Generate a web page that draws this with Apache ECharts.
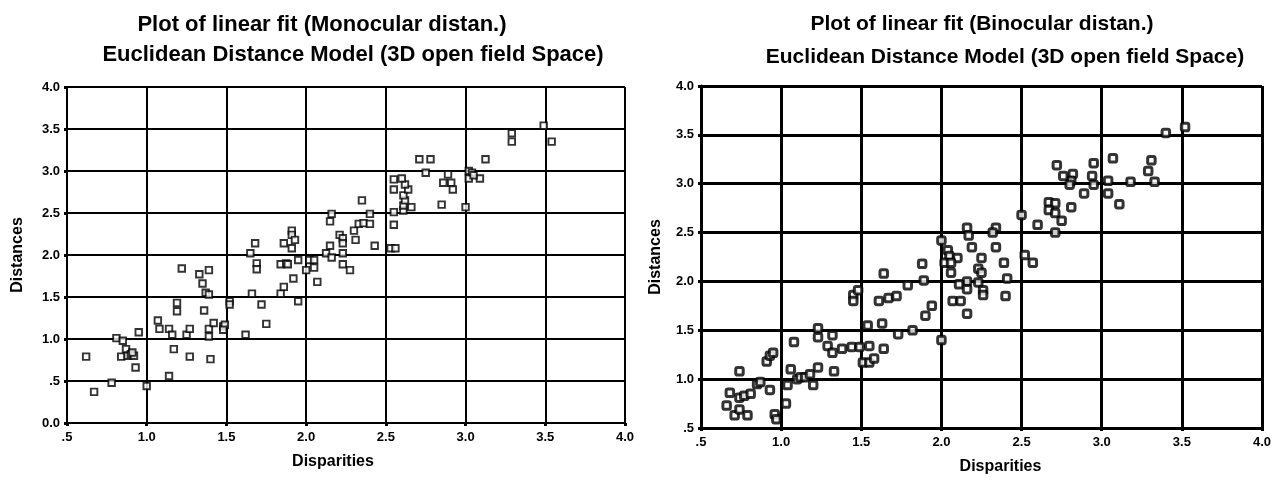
<!DOCTYPE html>
<html>
<head>
<meta charset="utf-8">
<script src="https://cdn.jsdelivr.net/npm/echarts@6/dist/echarts.min.js"></script>
<style>
  html, body { margin: 0; padding: 0; background: #ffffff; }
  #chart { width: 1275px; height: 482px; }
</style>
</head>
<body>
<div id="chart"></div>
<script>
// Disparity / distance pairs, monocular condition
const monocularPoints = [
  [0.62,0.79],[0.67,0.37],[0.78,0.48],[0.81,1.01],[0.85,0.98],[0.84,0.79],[0.87,0.88],[0.88,0.80],
  [0.90,0.82],[0.92,0.80],[0.91,0.84],[0.93,0.66],[0.95,1.08],[1.00,0.44],
  [1.07,1.22],[1.08,1.12],[1.14,1.12],[1.16,1.05],[1.17,0.88],[1.14,0.56],[1.19,1.43],[1.19,1.33],
  [1.22,1.84],[1.25,1.05],[1.27,1.12],[1.27,0.79],[1.33,1.77],[1.35,1.66],[1.36,1.34],[1.37,1.55],
  [1.39,1.53],[1.39,1.82],[1.39,1.12],[1.39,1.03],[1.40,0.76],[1.42,1.19],[1.48,1.15],[1.49,1.17],
  [1.48,1.11],[1.52,1.45],[1.52,1.41],
  [1.62,1.05],[1.66,1.54],[1.72,1.41],[1.75,1.18],[1.65,2.02],[1.68,2.14],[1.69,1.90],[1.69,1.83],
  [1.84,1.54],[1.86,1.62],[1.84,1.89],[1.875,1.90],[1.885,1.89],[1.92,1.72],[1.95,1.45],[1.95,1.94],
  [1.91,2.29],[1.91,2.24],[1.93,2.18],[1.91,2.08],[1.86,2.14],
  [2.00,1.82],[2.02,1.94],[2.05,1.94],[2.05,1.85],[2.07,1.68],[2.125,2.02],[2.16,1.97],[2.15,2.11],
  [2.23,2.02],[2.23,1.89],[2.275,1.82],[2.21,2.24],[2.23,2.20],[2.23,2.14],[2.31,2.18],[2.30,2.29],
  [2.33,2.37],[2.36,2.38],[2.40,2.37],[2.40,2.49],[2.43,2.11],[2.16,2.49],[2.15,2.40],[2.35,2.65],
  [2.53,2.08],[2.56,2.08],[2.55,2.36],[2.55,2.51],[2.61,2.53],[2.61,2.59],[2.66,2.57],[2.62,2.65],
  [2.61,2.71],[2.55,2.78],[2.64,2.78],[2.62,2.84],[2.55,2.90],[2.60,2.91],[2.71,3.14],[2.78,3.14],
  [2.75,2.98],[2.85,2.60],[2.89,2.96],[2.86,2.86],[2.91,2.86],[2.92,2.78],[3.00,2.57],[3.02,3.00],
  [3.04,2.98],[3.02,2.91],[3.09,2.91],[3.05,2.95],[3.125,3.14],[3.29,3.45],[3.29,3.35],[3.49,3.54],
  [3.54,3.35]
];

// Disparity / distance pairs, binocular condition
const binocularPoints = [
  [0.66,0.73],[0.68,0.86],[0.71,0.63],[0.74,0.69],[0.74,0.81],[0.74,1.08],[0.77,0.83],[0.79,0.63],
  [0.81,0.85],[0.85,0.95],[0.87,0.97],[0.91,1.18],[0.93,1.24],[0.95,1.27],[0.93,0.89],[0.96,0.64],
  [0.97,0.59],
  [1.03,0.75],[1.04,0.94],[1.06,1.10],[1.08,1.38],[1.10,1.00],[1.12,1.02],[1.15,1.02],[1.18,1.05],
  [1.20,0.94],[1.23,1.12],[1.23,1.52],[1.23,1.43],[1.29,1.34],[1.32,1.27],[1.32,1.45],[1.33,1.08],
  [1.38,1.31],[1.44,1.33],[1.49,1.33],[1.45,1.86],[1.45,1.80],[1.48,1.91],
  [1.51,1.17],[1.55,1.17],[1.54,1.55],[1.55,1.34],[1.58,1.21],[1.63,1.57],[1.64,1.31],[1.64,2.08],
  [1.61,1.80],[1.67,1.83],[1.72,1.85],[1.73,1.46],[1.79,1.96],[1.82,1.50],[1.88,2.18],[1.89,2.01],
  [1.90,1.65],[1.94,1.75],
  [2.00,1.40],[2.00,2.42],[2.04,2.32],[2.05,2.26],[2.10,2.24],[2.02,2.19],[2.06,2.19],[2.06,2.09],
  [2.16,2.55],[2.17,2.47],[2.34,2.55],[2.32,2.50],[2.19,2.35],[2.34,2.35],[2.25,2.24],[2.39,2.19],
  [2.23,2.13],[2.25,2.09],[2.41,2.03],[2.16,2.00],[2.11,1.97],[2.23,1.99],[2.16,1.92],[2.26,1.91],
  [2.26,1.86],[2.40,1.85],[2.16,1.67],[2.07,1.80],[2.12,1.80],
  [2.50,2.68],[2.60,2.58],[2.71,2.50],[2.52,2.27],[2.57,2.19],[2.67,2.81],[2.71,2.80],[2.67,2.73],
  [2.71,2.70],[2.81,2.76],[2.75,2.62],[2.72,3.19],[2.95,3.21],[3.07,3.26],[3.31,3.24],[3.29,3.13],
  [3.18,3.02],[3.33,3.02],[2.82,3.10],[2.81,3.03],[2.76,3.08],[2.80,2.99],[2.94,3.08],[2.95,2.99],
  [3.04,3.03],[3.04,2.90],[3.11,2.79],[2.89,2.90],[3.40,3.52],[3.52,3.58]
];

// Tick labels
const xTickLabels = ['.5', '1.0', '1.5', '2.0', '2.5', '3.0', '3.5', '4.0'];
const yTickLabelsMono = ['0.0', '.5', '1.0', '1.5', '2.0', '2.5', '3.0', '3.5', '4.0'];
const yTickLabelsBino = ['.5', '1.0', '1.5', '2.0', '2.5', '3.0', '3.5', '4.0'];

const titles = {
  mono: 'Plot of linear fit (Monocular distan.)',
  bino: 'Plot of linear fit (Binocular distan.)',
  sub: 'Euclidean Distance Model (3D open field Space)'
};

const FONT = "'Liberation Sans', Arial, Helvetica, sans-serif";
const STEP = 0.5;

function labelFrom(labels, min) {
  return v => labels[Math.round((v - min) / STEP)] || '';
}

function xAxisFor(gridIndex, lineW, namePad) {
  return {
    gridIndex, type: 'value', min: 0.5, max: 4.0, interval: STEP,
    name: 'Disparities', nameLocation: 'middle', nameGap: 31,
    nameTextStyle: { fontFamily: FONT, fontSize: 16, fontWeight: 'bold', color: '#000', padding: namePad },
    axisLine: { show: true, onZero: false, lineStyle: { color: '#000', width: lineW } },
    axisTick: { show: true, length: 3, lineStyle: { color: '#000', width: 3 } },
    axisLabel: { formatter: labelFrom(xTickLabels, 0.5), margin: 8,
      fontFamily: FONT, fontSize: 13, fontWeight: 'bold', color: '#000' },
    splitLine: { show: true, lineStyle: { color: '#000', width: lineW } }
  };
}

function yAxisFor(gridIndex, min, labels, lineW, gap) {
  return {
    gridIndex, type: 'value', min, max: 4.0, interval: STEP,
    name: 'Distances', nameLocation: 'middle', nameGap: gap,
    nameTextStyle: { fontFamily: FONT, fontSize: 16, fontWeight: 'bold', color: '#000' },
    axisLine: { show: true, onZero: false, lineStyle: { color: '#000', width: lineW } },
    axisTick: { show: true, length: 3, lineStyle: { color: '#000', width: 3 } },
    axisLabel: { formatter: labelFrom(labels, min), margin: 7,
      fontFamily: FONT, fontSize: 13, fontWeight: 'bold', color: '#000' },
    splitLine: { show: true, lineStyle: { color: '#000', width: lineW } }
  };
}

function titleAt(text, x, y, size) {
  return { text, left: x, top: y, textAlign: 'center',
    textStyle: { fontFamily: FONT, fontSize: size, fontWeight: 'bold', color: '#000' } };
}

const chart = echarts.init(document.getElementById('chart'), null, { renderer: 'canvas' });

chart.setOption({
  backgroundColor: '#ffffff',
  animation: false,
  title: [
    titleAt(titles.mono, 317, 9, 22),
    titleAt(titles.sub, 348, 39, 22),
    titleAt(titles.bino, 977, 9, 21),
    titleAt(titles.sub, 1000, 42, 21)
  ],
  grid: [
    { left: 67, top: 87, width: 558, height: 336 },
    { left: 701, top: 86, width: 561, height: 342 }
  ],
  xAxis: [
    xAxisFor(0, 2, [0, 26, 0, 0]),
    xAxisFor(1, 3, [0, 0, 0, 38])
  ],
  yAxis: [
    yAxisFor(0, 0.0, yTickLabelsMono, 2, 41),
    yAxisFor(1, 0.5, yTickLabelsBino, 3, 37)
  ],
  series: [
    {
      type: 'scatter', xAxisIndex: 0, yAxisIndex: 0, data: monocularPoints,
      symbol: 'rect', symbolSize: 6.5,
      itemStyle: { color: '#ffffff', borderColor: '#000', borderWidth: 1.9 }
    },
    {
      type: 'scatter', xAxisIndex: 1, yAxisIndex: 1, data: binocularPoints,
      symbol: 'roundRect', symbolSize: 7.5,
      itemStyle: { color: '#ffffff', borderColor: '#000', borderWidth: 3 }
    }
  ]
});
</script>
</body>
</html>
